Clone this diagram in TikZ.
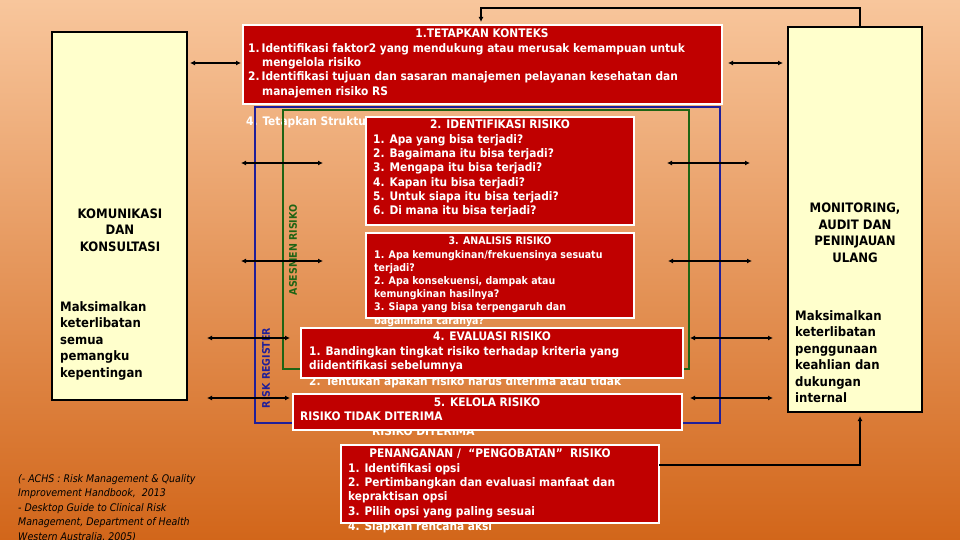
\documentclass[tikz,border=0pt]{standalone}
\usepackage{fontspec}
\setmainfont{DejaVu Sans Condensed}
\usetikzlibrary{arrows.meta}
\definecolor{bgtop}{HTML}{F8C69C}
\definecolor{bgbot}{HTML}{D2661A}
\definecolor{redbox}{HTML}{C00000}
\definecolor{ylw}{HTML}{FFFFCC}
\definecolor{gr}{HTML}{1F6414}
\definecolor{bl}{HTML}{1F1F9A}
\tikzset{
 rbox/.style={draw=white,line width=2.5pt,fill=redbox},
 ybox/.style={draw=black,line width=2pt,fill=ylw},
 wt/.style={text=white,font=\bfseries\fontsize{11.8}{14.3}\selectfont,align=left,inner sep=0pt},
 dbl/.style={{Latex[length=5pt,width=5pt]}-{Latex[length=5pt,width=5pt]},line width=1.3pt},
 ln/.style={line width=1.3pt}
}
\begin{document}
\begin{tikzpicture}[x=1pt,y=-1pt]
\shade[top color=bgtop,bottom color=bgbot] (0,0) rectangle (960,540);
\useasboundingbox (0,0) rectangle (960,540);
% side boxes
\draw[ybox] (52,32) rectangle (187,400);
\node[font=\bfseries\fontsize{13}{16.5}\selectfont,align=center] (kom) at (120,230) {KOMUNIKASI\\DAN\\KONSULTASI};
\node[font=\bfseries\fontsize{13}{16.5}\selectfont,align=left,anchor=north west,inner sep=0pt] (kom2) at (60,301) {Maksimalkan\\keterlibatan\\semua\\pemangku\\kepentingan};
\draw[ybox] (788,27) rectangle (922,412);
\node[font=\bfseries\fontsize{13}{16.5}\selectfont,align=center] (mon) at (855,233) {MONITORING,\\AUDIT DAN\\PENINJAUAN\\ULANG};
\node[font=\bfseries\fontsize{13}{16.5}\selectfont,align=left,anchor=north west,inner sep=0pt] (mon2) at (795,310) {Maksimalkan\\keterlibatan\\penggunaan\\keahlian dan\\dukungan\\internal};
% top box
\draw[rbox] (243,25) rectangle (722,104);
\node[wt,anchor=north] (t0) at (482,29) {1.TETAPKAN KONTEKS};
\node[wt,anchor=north west] (t1) at (248,43) {1.\,Identifikasi faktor2 yang mendukung atau merusak kemampuan untuk\\\hspace{14pt}mengelola risiko\\2.\,Identifikasi tujuan dan sasaran manajemen pelayanan kesehatan dan\\\hspace{14pt}manajemen risiko RS};
\node[wt,anchor=north west] (t4) at (246,116) {4. Tetapkan Struktur};
% frames
\draw[bl,line width=2pt] (255,107) rectangle (720,423);
\draw[gr,line width=2.5pt] (283,110) rectangle (689,369);
\node[rotate=90,text=bl,font=\bfseries\fontsize{10.5}{12}\selectfont] (rr) at (266,368) {RISK REGISTER};
\node[rotate=90,text=gr,font=\bfseries\fontsize{10.5}{12}\selectfont] (ar) at (293,250) {ASESMEN RISIKO};
% box 2
\draw[rbox] (366,117) rectangle (634,225);
\node[wt,anchor=north] (i0) at (500,120) {2. IDENTIFIKASI RISIKO};
\node[wt,anchor=north west] (i1) at (373,134) {1. Apa yang bisa terjadi?\\2. Bagaimana itu bisa terjadi?\\3. Mengapa itu bisa terjadi?\\4. Kapan itu bisa terjadi?\\5. Untuk siapa itu bisa terjadi?\\6. Di mana itu bisa terjadi?};
% box 3
\node[wt,anchor=north west,font=\bfseries\fontsize{10.5}{13}\selectfont] (a9) at (374,316) {bagaimana caranya?};
\draw[rbox] (366,233) rectangle (634,318);
\node[wt,anchor=north,font=\bfseries\fontsize{10.5}{13}\selectfont] (a0) at (500,237) {3. ANALISIS RISIKO};
\node[wt,anchor=north west,font=\bfseries\fontsize{10.5}{13}\selectfont] (a1) at (374,250) {1. Apa kemungkinan/frekuensinya sesuatu\\terjadi?\\2. Apa konsekuensi, dampak atau\\kemungkinan hasilnya?\\3. Siapa yang bisa terpengaruh dan};
% box 4
\node[wt,anchor=north west] (e9) at (309,376) {2. Tentukan apakah risiko harus diterima atau tidak};
\draw[rbox] (301,328) rectangle (683,378);
\node[wt,anchor=north] (e0) at (492,332) {4. EVALUASI RISIKO};
\node[wt,anchor=north west] (e1) at (309,346) {1. Bandingkan tingkat risiko terhadap kriteria yang\\diidentifikasi sebelumnya};
% box 5
\node[wt,anchor=north west] (k9) at (372,427) {RISIKO DITERIMA};
\draw[rbox] (293,394) rectangle (682,430);
\node[wt,anchor=north] (k0) at (487,398) {5. KELOLA RISIKO};
\node[wt,anchor=north west] (k1) at (300,412) {RISIKO TIDAK DITERIMA};
% penanganan
\node[wt,anchor=north west] (p9) at (348,521) {4. Siapkan rencana aksi};
\draw[rbox] (341,445) rectangle (659,523);
\node[wt,anchor=north] (p0) at (490,449) {PENANGANAN /\ \ “PENGOBATAN”\ \ RISIKO};
\node[wt,anchor=north west] (p1) at (348,463) {1. Identifikasi opsi\\2. Pertimbangkan dan evaluasi manfaat dan\\kepraktisan opsi\\3. Pilih opsi yang paling sesuai};
% citation
\node[anchor=north west,inner sep=0pt,align=left,font=\itshape\fontsize{10.5}{14.5}\selectfont] (cit) at (18,474) {(- ACHS : Risk Management \& Quality\\Improvement Handbook, \ 2013\\- Desktop Guide to Clinical Risk\\Management, Department of Health\\Western Australia, 2005)};
% arrows
\coordinate (l1a) at (190,63); \coordinate (l1b) at (241,63);
\draw[dbl] (l1a) -- (l1b);
\coordinate (r1a) at (728,63); \coordinate (r1b) at (783,63);
\draw[dbl] (r1a) -- (r1b);
\foreach \y/\xa/\xb/\xc/\xd in {163/241/323/667/750, 261/241/323/668/752, 338/207/290/690/773, 398/207/290/690/773}{
 \coordinate (la) at (\xa,\y); \coordinate (lb) at (\xb,\y);
 \coordinate (ra) at (\xc,\y); \coordinate (rb) at (\xd,\y);
 \draw[dbl] (la) -- (lb);
 \draw[dbl] (ra) -- (rb);
}
% feedback loop
\coordinate (c1) at (860,27); \coordinate (c2) at (860,8); \coordinate (c3) at (481,8); \coordinate (c4) at (481,22);
\draw[ln,-{Latex[length=5pt,width=5pt]}] (c1) -- (c2) -- (c3) -- (c4);
\coordinate (d1) at (659,465); \coordinate (d2) at (860,465); \coordinate (d3) at (860,416);
\draw[ln,-{Latex[length=5pt,width=5pt]}] (d1) -- (d2) -- (d3);
\end{tikzpicture}
\end{document}
